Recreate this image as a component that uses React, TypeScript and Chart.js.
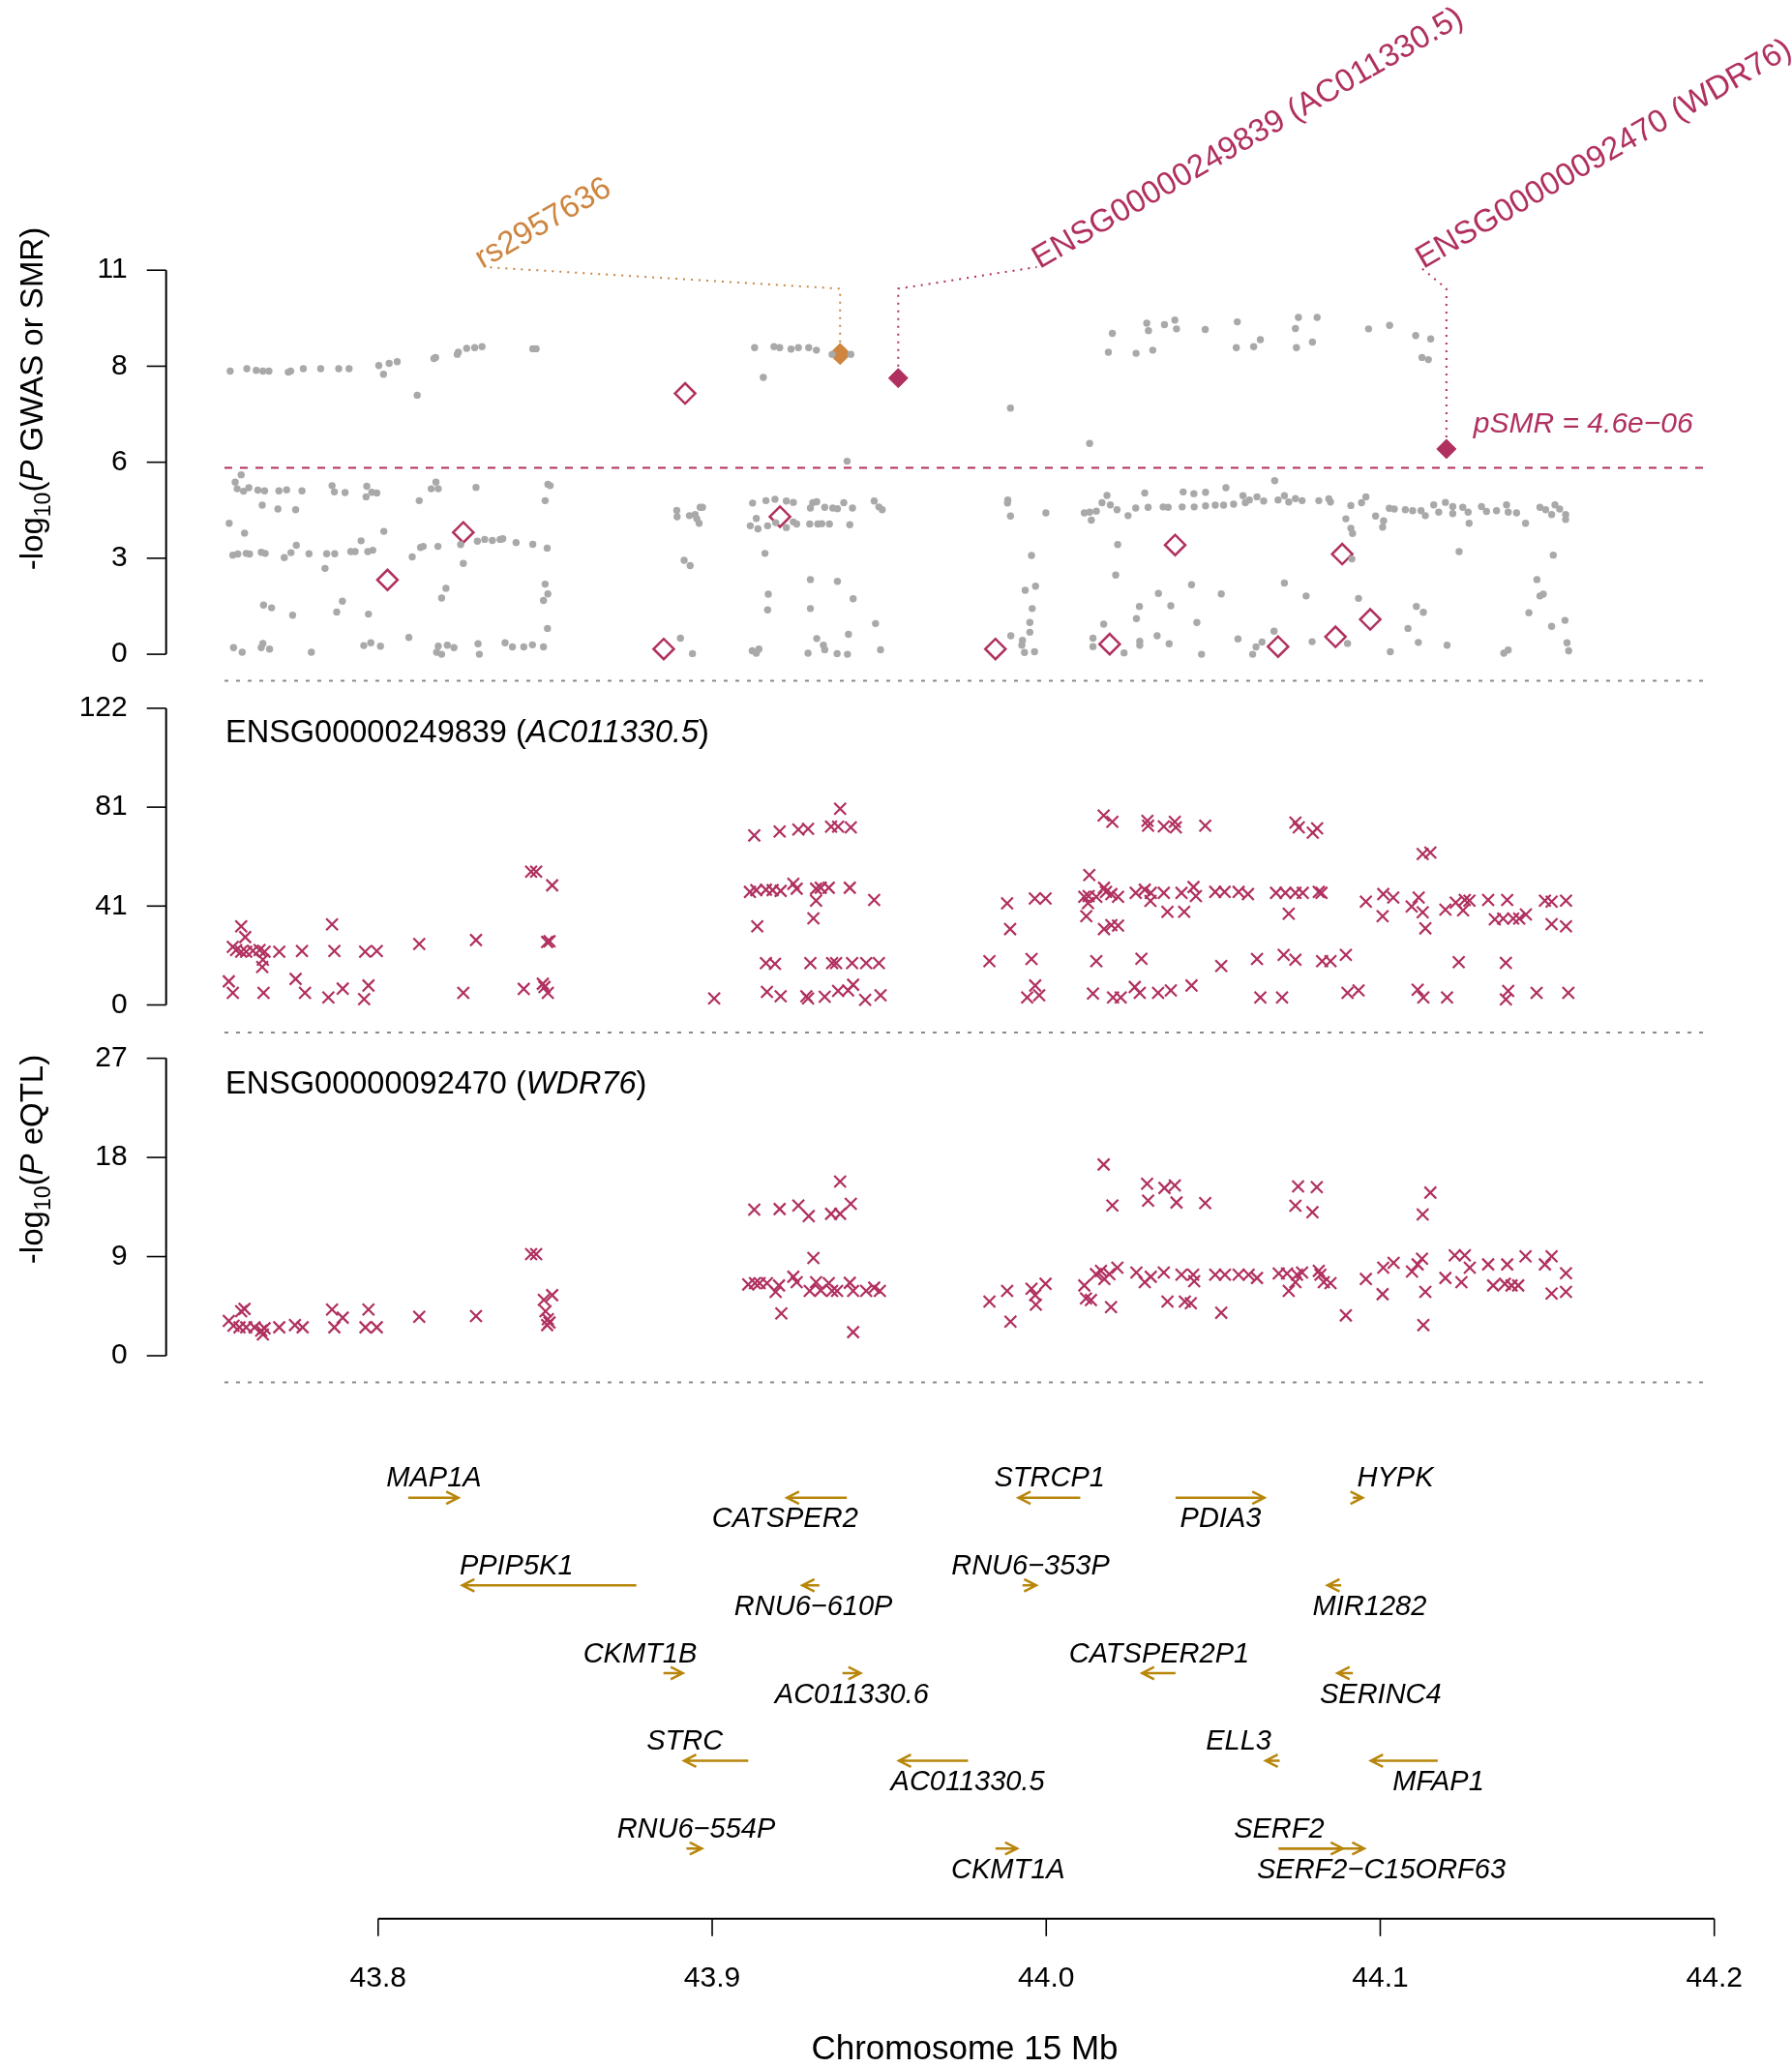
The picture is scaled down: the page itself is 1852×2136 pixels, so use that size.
import React, { useEffect, useRef } from "react";
import { Chart, registerables } from "chart.js";

Chart.register(...registerables);

// ---------------- styles ----------------
const MAROON = "#B03060";
const PERU = "#CD853F";
const GREY = "#A9A9A9";
const GOLD = "#B8860B";
const SEP_GREY = "#8A8A8A";
const FONT = '"Liberation Sans", Arial, Helvetica, sans-serif';

// ---------------- axes / ticks ----------------
const xTicks = [43.8, 43.9, 44.0, 44.1, 44.2];
const xTickLabels = ["43.8", "43.9", "44.0", "44.1", "44.2"];
const xTitle = "Chromosome 15 Mb";

const gwasTicks = [0, 2.75, 5.5, 8.25, 11];
const gwasTickLabels = ["0", "3", "6", "8", "11"];
const eqtl1Ticks = [0, 40.667, 81.333, 122];
const eqtl1TickLabels = ["0", "41", "81", "122"];
const eqtl2Ticks = [0, 9, 18, 27];
const eqtl2TickLabels = ["0", "9", "18", "27"];

const smrThreshold = 5.34; // -log10(P) significance line

// ---------------- GWAS (grey) [Mb, -log10 P] ----------------
const gwasPoints: number[][] = [
  [43.7557, 8.11], [43.7607, 8.18], [43.7635, 8.13], [43.7655, 8.11], [43.7673, 8.11], [43.7731, 8.08],
  [43.7738, 8.11], [43.7776, 8.18], [43.7828, 8.18], [43.7882, 8.18], [43.7913, 8.18], [43.8002, 8.27],
  [43.8016, 8.02], [43.8033, 8.33], [43.8057, 8.38], [43.8117, 7.42], [43.8167, 8.47], [43.8172, 8.5],
  [43.8237, 8.59], [43.824, 8.65], [43.8265, 8.76], [43.8289, 8.78], [43.8311, 8.81], [43.8463, 8.75],
  [43.8473, 8.75],
  [43.759, 5.14], [43.7572, 4.93], [43.7578, 4.74], [43.7597, 4.67], [43.7613, 4.77], [43.764, 4.7],
  [43.766, 4.68], [43.7703, 4.68], [43.7726, 4.71], [43.7772, 4.68], [43.7862, 4.83], [43.7869, 4.65],
  [43.7901, 4.63], [43.7966, 4.81], [43.7964, 4.51], [43.7981, 4.64], [43.7996, 4.62], [43.8123, 4.4],
  [43.8159, 4.74], [43.8173, 4.93], [43.818, 4.74], [43.8293, 4.78], [43.8508, 4.87], [43.8515, 4.83],
  [43.85, 4.4], [43.7653, 4.27], [43.77, 4.16], [43.7753, 4.14], [43.7554, 3.75], [43.76, 3.47],
  [43.7565, 2.84], [43.758, 2.87], [43.7605, 2.89], [43.7615, 2.87], [43.765, 2.92], [43.7662, 2.89],
  [43.7719, 2.77], [43.7739, 2.91], [43.7755, 3.12], [43.7793, 2.88], [43.7846, 2.88], [43.787, 2.88],
  [43.7918, 2.94], [43.7931, 2.94], [43.7969, 2.94], [43.7984, 2.98], [43.7949, 3.25], [43.8017, 3.52],
  [43.7841, 2.46], [43.8102, 2.79], [43.8127, 3.06], [43.8135, 3.09], [43.8179, 3.09], [43.8247, 3.14],
  [43.8255, 2.6], [43.8297, 3.24], [43.8319, 3.29], [43.8342, 3.26], [43.8365, 3.29], [43.8373, 3.31],
  [43.8413, 3.2], [43.8463, 3.15], [43.8506, 3.04], [43.8203, 1.89], [43.819, 1.61], [43.85, 2.01],
  [43.8508, 1.73], [43.8495, 1.54], [43.8507, 0.74], [43.7657, 1.41], [43.7681, 1.33], [43.7744, 1.12],
  [43.7893, 1.52], [43.7876, 1.21], [43.7971, 1.15], [43.7567, 0.19], [43.7593, 0.06], [43.7655, 0.31],
  [43.765, 0.19], [43.7675, 0.15], [43.78, 0.06], [43.7957, 0.25], [43.7978, 0.33], [43.8007, 0.23],
  [43.8092, 0.48], [43.818, 0.23], [43.8175, 0.06], [43.819, 0.0], [43.8207, 0.26], [43.8227, 0.19],
  [43.8299, 0.3], [43.8303, 0.0], [43.838, 0.33], [43.8402, 0.21], [43.8436, 0.21], [43.8462, 0.27],
  [43.8495, 0.21], [43.8894, 4.12], [43.8895, 3.94], [43.8932, 3.97], [43.8949, 4.0], [43.8964, 4.21],
  [43.8971, 4.21], [43.8954, 3.88], [43.8961, 3.75], [43.8916, 2.69], [43.8934, 2.54], [43.8905, 0.46],
  [43.8941, 0.02],
  [43.9127, 8.78], [43.9185, 8.81], [43.9202, 8.78], [43.9236, 8.74], [43.9258, 8.78], [43.9289, 8.78],
  [43.9312, 8.71], [43.9359, 8.59], [43.9415, 8.59], [43.9153, 7.93], [43.9893, 7.05], [43.9404, 5.53],
  [43.9121, 4.33], [43.9161, 4.4], [43.9188, 4.44], [43.9222, 4.39], [43.9243, 4.35], [43.9301, 4.34],
  [43.9313, 4.37], [43.9294, 4.19], [43.9337, 4.21], [43.9361, 4.19], [43.9375, 4.17], [43.9394, 4.34],
  [43.942, 4.19], [43.9485, 4.39], [43.9499, 4.22], [43.9509, 4.14], [43.9132, 3.89], [43.9114, 3.68],
  [43.9137, 3.59], [43.9166, 3.68], [43.919, 3.77], [43.9222, 3.63], [43.9243, 3.79], [43.9253, 3.73],
  [43.9292, 3.73], [43.9316, 3.73], [43.9328, 3.74], [43.9351, 3.73], [43.9412, 3.71], [43.9158, 2.89],
  [43.9885, 4.42], [43.9884, 4.33], [43.9893, 3.96], [43.9999, 4.05], [43.9956, 2.83], [43.9294, 2.14],
  [43.9375, 2.09], [43.9168, 1.72], [43.9166, 1.27], [43.9294, 1.31], [43.9422, 1.59], [43.9489, 0.88],
  [43.9937, 1.83], [43.9968, 1.95], [43.9958, 1.31], [43.9951, 0.91], [43.9951, 0.63], [43.9894, 0.53],
  [43.9929, 0.4], [43.9927, 0.26], [43.9935, 0.05], [43.9965, 0.07], [43.912, 0.1], [43.9132, 0.03],
  [43.914, 0.15], [43.9287, 0.03], [43.9313, 0.45], [43.9333, 0.26], [43.9337, 0.13], [43.9374, 0.02],
  [43.9405, 0.0], [43.9408, 0.57], [43.9504, 0.13],
  [44.0198, 9.19], [44.0186, 8.65], [44.0301, 9.48], [44.0306, 9.27], [44.0269, 8.62], [44.0319, 8.71],
  [44.0354, 9.44], [44.0385, 9.57], [44.039, 9.32], [44.0476, 9.3], [44.0572, 9.52], [44.0569, 8.78],
  [44.0621, 8.81], [44.0641, 9.01], [44.0755, 9.65], [44.0811, 9.65], [44.0746, 9.33], [44.0749, 8.78],
  [44.0797, 8.94], [44.0965, 9.32], [44.1028, 9.42], [44.1106, 9.13], [44.1151, 9.03], [44.1125, 8.5],
  [44.1144, 8.44], [44.013, 6.04],
  [44.0114, 4.05], [44.013, 4.07], [44.0135, 3.84], [44.015, 4.1], [44.0167, 4.34], [44.0182, 4.55],
  [44.0192, 4.28], [44.0212, 4.14], [44.0245, 3.97], [44.0268, 4.19], [44.0295, 4.62], [44.0305, 4.21],
  [44.035, 4.22], [44.0365, 4.21], [44.041, 4.65], [44.0407, 4.22], [44.0442, 4.6], [44.0443, 4.22],
  [44.0477, 4.64], [44.0477, 4.25], [44.0506, 4.27], [44.0538, 4.77], [44.0531, 4.27], [44.0561, 4.3],
  [44.0589, 4.54], [44.0596, 4.34], [44.0608, 4.42], [44.0631, 4.51], [44.0651, 4.39], [44.0684, 4.97],
  [44.0694, 4.42], [44.0713, 4.54], [44.0726, 4.36], [44.0746, 4.46], [44.0766, 4.4], [44.0816, 4.4],
  [44.0846, 4.45], [44.0851, 4.36], [44.0912, 4.26], [44.0944, 4.34], [44.0957, 4.51], [44.0897, 3.88],
  [44.0986, 3.96], [44.101, 3.82], [44.1007, 3.64], [44.0912, 3.61], [44.0917, 3.46], [44.1027, 4.18],
  [44.1042, 4.16], [44.1075, 4.14], [44.1097, 4.11], [44.1122, 4.11], [44.1135, 3.97], [44.116, 4.28],
  [44.1175, 4.07], [44.1195, 4.35], [44.1217, 4.23], [44.1217, 4.03], [44.1247, 4.21], [44.1263, 4.07],
  [44.1266, 3.75], [44.1303, 4.23], [44.1318, 4.09], [44.1348, 4.11], [44.1378, 4.28], [44.1383, 4.07],
  [44.1408, 4.05], [44.1435, 3.75], [44.1478, 4.21], [44.1495, 4.14], [44.1513, 4.0], [44.1523, 4.28],
  [44.1537, 4.16], [44.1555, 4.0], [44.1555, 3.86], [44.1236, 2.94], [44.1518, 2.84], [44.1469, 2.14],
  [44.1478, 1.67], [44.1488, 1.72], [44.1445, 1.19], [44.1513, 0.8], [44.1553, 0.97], [44.1559, 0.33],
  [44.1564, 0.1], [44.137, 0.03], [44.1383, 0.12], [44.0214, 3.14], [44.0208, 2.27], [44.0435, 1.99],
  [44.0336, 1.74], [44.0373, 1.39], [44.0279, 1.37], [44.027, 1.02], [44.0172, 0.86], [44.014, 0.46],
  [44.014, 0.22], [44.0233, 0.04], [44.028, 0.37], [44.028, 0.26], [44.0332, 0.53], [44.0368, 0.3],
  [44.0451, 0.91], [44.0465, 0.0], [44.0524, 1.73], [44.0574, 0.44], [44.0618, 0.0], [44.0628, 0.21],
  [44.0646, 0.35], [44.0682, 0.66], [44.0713, 2.04], [44.0778, 1.67], [44.0796, 0.36], [44.0902, 0.31],
  [44.0915, 2.73], [44.0935, 1.6], [44.103, 0.07], [44.1083, 0.74], [44.1108, 1.37], [44.1129, 1.2],
  [44.1114, 0.34], [44.12, 0.26],
];

// ---------------- SMR results ----------------
const smrOpen: number[][] = [
  [43.8255, 3.49], [43.8028, 2.13], [43.8919, 7.47], [43.8855, 0.15], [43.9203, 3.94], [43.9848, 0.15],
  [44.0386, 3.13], [44.0886, 2.87], [44.019, 0.29], [44.0694, 0.22], [44.0866, 0.5], [44.097, 1.0],
];
const smrSig: number[][] = [[43.9557, 7.91], [44.1198, 5.88]];
const topSnp: number[][] = [[43.9383, 8.6]];

// top annotations: label text, target point, label anchor (Mb)
const annoTexts = ["rs2957636", "ENSG00000249839 (AC011330.5)", "ENSG00000092470 (WDR76)"];
const annoTargets: number[][] = [topSnp[0], smrSig[0], smrSig[1]];
const annoAnchorMb = [43.8318, 43.9972, 44.112];
const annoBendY = 10.47;
const annoLabelY = 11.09;
const pSmrText = "pSMR = 4.6e\u221206";

// ---------------- eQTL: ENSG00000249839 (AC011330.5) ----------------
const eqtl1Points: number[][] = [
  [43.759, 32.3], [43.7602, 27.9], [43.7565, 23.9], [43.7575, 22.6], [43.759, 21.9], [43.7605, 21.9],
  [43.7625, 22.3], [43.7645, 22.6], [43.766, 21.9], [43.7655, 18.6], [43.7653, 15.6], [43.7704, 21.9],
  [43.7772, 22.2], [43.7869, 22.2], [43.7862, 33.1], [43.7961, 21.9], [43.7996, 22.2], [43.8123, 25.1],
  [43.8293, 26.7], [43.7553, 9.7], [43.7565, 5.0], [43.7657, 5.0], [43.7753, 10.7], [43.7781, 5.0],
  [43.7851, 3.1], [43.7894, 6.7], [43.7971, 8.0], [43.7958, 2.4], [43.8255, 5.0], [43.8436, 6.6],
  [43.8493, 8.7], [43.8498, 7.4], [43.8508, 5.0], [43.8458, 54.8], [43.8473, 54.8], [43.8521, 49.2],
  [43.8506, 25.9], [43.8513, 26.2], [43.9006, 2.7],
  [43.9126, 69.7], [43.9202, 71.3], [43.9258, 72.1], [43.9287, 72.4], [43.9356, 73.3], [43.9383, 80.7],
  [43.9377, 73.3], [43.9415, 73.0], [43.9113, 46.5], [43.9132, 47.2], [43.9161, 47.4], [43.9181, 47.2],
  [43.9205, 46.9], [43.9243, 49.8], [43.9253, 47.8], [43.9311, 47.8], [43.9325, 48.2], [43.9349, 48.2],
  [43.9412, 48.2], [43.9311, 42.9], [43.9303, 35.6], [43.9485, 43.2], [43.9135, 32.3], [43.9161, 17.2],
  [43.9188, 16.9], [43.9294, 17.2], [43.9359, 17.2], [43.9371, 17.2], [43.9419, 17.2], [43.9461, 17.2],
  [43.9499, 17.2], [43.9164, 5.4], [43.9205, 3.6], [43.9282, 3.6], [43.9287, 2.7], [43.9337, 3.4],
  [43.9377, 5.8], [43.9407, 6.0], [43.9422, 8.3], [43.9458, 2.1], [43.9504, 4.0], [43.983, 18.0],
  [43.9883, 41.8], [43.9892, 31.2], [43.9966, 43.8], [43.9998, 43.8], [43.9956, 18.9], [43.9967, 8.0],
  [43.9943, 3.1], [43.9979, 4.0],
  [44.0172, 77.9], [44.0198, 75.3], [44.0303, 75.7], [44.0305, 73.7], [44.0352, 73.4], [44.0385, 75.3],
  [44.0388, 73.0], [44.0476, 73.7], [44.0746, 75.0], [44.0756, 73.0], [44.0798, 70.8], [44.0811, 72.6],
  [44.1127, 62.1], [44.115, 62.7], [44.0129, 53.4], [44.0114, 44.5], [44.0127, 44.8], [44.015, 44.5],
  [44.0173, 48.2], [44.0179, 46.5], [44.0195, 45.6], [44.0215, 44.5], [44.0268, 46.1], [44.0295, 47.4],
  [44.0312, 42.8], [44.0313, 46.1], [44.0352, 46.1], [44.0405, 46.1], [44.0441, 48.5], [44.0448, 44.8],
  [44.0506, 46.5], [44.0534, 46.5], [44.0576, 46.5], [44.0604, 45.6], [44.0688, 46.1], [44.0716, 46.1],
  [44.0746, 46.1], [44.0768, 46.1], [44.0816, 46.5], [44.0824, 46.1], [44.012, 36.5], [44.0125, 41.9],
  [44.0173, 31.2], [44.0195, 32.8], [44.0215, 32.6], [44.0363, 38.3], [44.0413, 38.3], [44.0726, 37.5],
  [44.0957, 42.5], [44.1009, 45.6], [44.1039, 44.2], [44.1007, 36.5], [44.1094, 40.5], [44.1115, 44.2],
  [44.1127, 38.1], [44.1135, 31.5], [44.1195, 39.2], [44.1226, 42.1], [44.1253, 43.2], [44.1267, 42.9],
  [44.1248, 38.9], [44.1323, 43.2], [44.138, 43.2], [44.1343, 35.2], [44.1368, 35.5], [44.1398, 35.5],
  [44.1416, 35.5], [44.1436, 37.2], [44.1493, 42.9], [44.1513, 42.5], [44.1556, 42.9], [44.1513, 33.2],
  [44.1556, 32.3], [44.015, 18.0], [44.0285, 19.0], [44.0524, 16.0], [44.0631, 18.9], [44.0711, 20.6],
  [44.0746, 18.6], [44.0826, 18.0], [44.0851, 18.0], [44.0897, 20.6], [44.1235, 17.6], [44.1376, 17.3],
  [44.014, 4.7], [44.02, 3.1], [44.0223, 3.1], [44.0265, 7.4], [44.028, 5.0], [44.0335, 5.0],
  [44.0373, 6.0], [44.0435, 8.0], [44.0641, 3.1], [44.0706, 3.1], [44.0902, 5.0], [44.0935, 6.0],
  [44.1112, 6.3], [44.1129, 3.1], [44.12, 3.1], [44.1383, 5.8], [44.1376, 2.3], [44.1468, 5.0],
  [44.1563, 5.0],
];

// ---------------- eQTL: ENSG00000092470 (WDR76) ----------------
const eqtl2Points: number[][] = [
  [43.7553, 3.16], [43.759, 4.04], [43.76, 4.25], [43.7567, 2.72], [43.7585, 2.58], [43.7605, 2.58],
  [43.763, 2.58], [43.765, 2.28], [43.7655, 1.93], [43.766, 2.49], [43.7704, 2.58], [43.7751, 2.78],
  [43.7774, 2.58], [43.7862, 4.19], [43.7894, 3.46], [43.7869, 2.58], [43.7971, 4.19], [43.7962, 2.58],
  [43.7996, 2.58], [43.8123, 3.54], [43.8293, 3.6], [43.8458, 9.22], [43.8473, 9.22], [43.8521, 5.5],
  [43.8496, 5.07], [43.8501, 4.04], [43.8508, 3.31], [43.8513, 3.02], [43.8506, 2.78],
  [43.9126, 13.26], [43.9202, 13.32], [43.9258, 13.64], [43.9289, 12.68], [43.9356, 12.88], [43.9383, 15.81],
  [43.9383, 12.88], [43.9415, 13.79], [43.9303, 8.87], [43.9108, 6.47], [43.9128, 6.59], [43.9142, 6.59],
  [43.9164, 6.59], [43.919, 5.8], [43.92, 6.38], [43.9243, 7.17], [43.9253, 6.68], [43.9292, 5.89],
  [43.9311, 6.68], [43.9325, 5.94], [43.9349, 6.59], [43.9359, 5.89], [43.9374, 5.89], [43.9412, 6.62],
  [43.9422, 5.89], [43.9461, 5.89], [43.9485, 6.18], [43.9502, 5.89], [43.9207, 3.84], [43.9422, 2.14],
  [43.983, 4.92], [43.9883, 5.89], [43.9893, 3.1], [43.9956, 6.09], [43.9969, 4.63], [43.9967, 5.5],
  [43.9998, 6.53],
  [44.0172, 17.36], [44.0198, 13.64], [44.0302, 15.61], [44.0305, 14.08], [44.0354, 15.23], [44.0385, 15.46],
  [44.039, 13.91], [44.0476, 13.85], [44.0754, 15.37], [44.081, 15.31], [44.0746, 13.61], [44.0797, 13.03],
  [44.115, 14.81], [44.1127, 12.82], [44.0114, 6.38], [44.0119, 5.21], [44.0134, 5.06], [44.0149, 7.41],
  [44.0164, 7.7], [44.0174, 6.97], [44.0189, 7.41], [44.0213, 7.99], [44.0194, 4.42], [44.027, 7.55],
  [44.0295, 6.68], [44.0313, 7.17], [44.0352, 7.55], [44.0405, 7.35], [44.044, 7.35], [44.0443, 6.76],
  [44.0363, 4.92], [44.0415, 4.92], [44.0433, 4.77], [44.0506, 7.35], [44.0535, 7.35], [44.0576, 7.35],
  [44.0606, 7.35], [44.0631, 7.06], [44.0524, 3.9], [44.0696, 7.47], [44.0721, 7.47], [44.0751, 7.35],
  [44.0766, 7.55], [44.0746, 6.68], [44.0726, 5.89], [44.0816, 7.7], [44.0821, 7.35], [44.0831, 6.68],
  [44.0851, 6.59], [44.0897, 3.66], [44.0957, 6.97], [44.1009, 7.99], [44.104, 8.43], [44.1007, 5.59],
  [44.1095, 7.64], [44.1112, 8.29], [44.1125, 8.81], [44.1135, 5.8], [44.1129, 2.78], [44.1195, 7.06],
  [44.1223, 9.11], [44.1253, 9.11], [44.1268, 7.99], [44.1243, 6.68], [44.1323, 8.29], [44.138, 8.29],
  [44.1338, 6.38], [44.1373, 6.53], [44.1393, 6.38], [44.1413, 6.38], [44.1435, 9.02], [44.1493, 8.29],
  [44.1513, 9.02], [44.1556, 7.49], [44.1513, 5.65], [44.1556, 5.8],
];

// ---------------- genes ----------------
const geneNames = [
  "MAP1A", "CATSPER2", "STRCP1", "PDIA3", "HYPK",
  "PPIP5K1", "RNU6\u2212610P", "RNU6\u2212353P", "MIR1282",
  "CKMT1B", "AC011330.6", "CATSPER2P1", "SERINC4",
  "STRC", "AC011330.5", "ELL3", "MFAP1",
  "RNU6\u2212554P", "CKMT1A", "SERF2", "SERF2\u2212C15ORF63",
];
const geneStart = [
  43.809, 43.9224, 43.9917, 44.0387, 44.0918,
  43.8252, 43.927, 43.9929, 44.0842,
  43.8854, 43.939, 44.0287, 44.0872,
  43.8916, 43.9559, 44.0657, 44.0972,
  43.8923, 43.9848, 44.0696, 44.0696,
];
const geneEnd = [
  43.824, 43.9403, 44.0102, 44.0653, 44.0947,
  43.8773, 43.9321, 43.997, 44.0883,
  43.8912, 43.9444, 44.0387, 44.0918,
  43.9108, 43.9766, 44.0699, 44.1172,
  43.8969, 43.9913, 44.0888, 44.0952,
];
const geneStrand = [1, -1, -1, 1, 1, -1, -1, 1, -1, 1, 1, -1, -1, -1, -1, -1, -1, 1, 1, 1, 1];
const geneRow = [1, 1, 1, 1, 1, 2, 2, 2, 2, 3, 3, 3, 3, 4, 4, 4, 4, 5, 5, 5, 5];
const geneLabelX = [
  43.8167, 43.9218, 44.001, 44.0522, 44.1045,
  43.8414, 43.9303, 43.9953, 44.0968,
  43.8784, 43.9418, 44.0338, 44.1001,
  43.8918, 43.9765, 44.0576, 44.1174,
  43.8952, 43.9886, 44.0697, 44.1003,
];
const geneLabelAbove = [1, 0, 1, 0, 1, 1, 0, 1, 0, 1, 0, 1, 0, 1, 0, 1, 0, 1, 0, 1, 0];

// ---------------- layout constants (pixels / scale windows) ----------------
const W = 1852;
const H = 2136;
const AXIS_X = 171.7;
const X_AXIS_Y = 1982.8;
const LINE_X0 = 43.754;
const LINE_X1 = 44.1969;
const SEP_GWAS = -0.762;
const SEP_E1 = -11.3;
const SEP_E2 = -2.415;

const toXY = (arr: number[][]) => arr.map(([x, y]) => ({ x, y }));

function drawMixed(ctx: CanvasRenderingContext2D, parts: [string, string, number][], x: number, y: number, align: "left" | "center") {
  let total = 0;
  parts.forEach(([t, f]) => { ctx.font = f; total += ctx.measureText(t).width; });
  let cx = align === "center" ? x - total / 2 : x;
  ctx.textAlign = "left";
  ctx.textBaseline = "alphabetic";
  parts.forEach(([t, f, dy]) => {
    ctx.font = f;
    ctx.fillText(t, cx, y + dy);
    cx += ctx.measureText(t).width;
  });
}

const decor = {
  id: "smrDecor",
  beforeDatasetsDraw(chart: any) {
    const ctx: CanvasRenderingContext2D = chart.ctx;
    const sx = chart.scales.x;
    const s1 = chart.scales.yGwas;
    const s2 = chart.scales.yE1;
    const s3 = chart.scales.yE2;
    const sg = chart.scales.yGene;
    ctx.save();

    const xl = sx.getPixelForValue(LINE_X0);
    const xr = sx.getPixelForValue(LINE_X1);

    // dotted separators
    ctx.strokeStyle = SEP_GREY;
    ctx.lineWidth = 2;
    ctx.setLineDash([4, 8]);
    ([[s1, SEP_GWAS], [s2, SEP_E1], [s3, SEP_E2]] as any[]).forEach(([s, v]) => {
      const y = s.getPixelForValue(v);
      ctx.beginPath();
      ctx.moveTo(xl, y);
      ctx.lineTo(xr, y);
      ctx.stroke();
    });

    // SMR threshold
    ctx.strokeStyle = MAROON;
    ctx.setLineDash([8, 8]);
    const yt = s1.getPixelForValue(smrThreshold);
    ctx.beginPath();
    ctx.moveTo(xl, yt);
    ctx.lineTo(xr, yt);
    ctx.stroke();
    ctx.setLineDash([]);

    // y axes
    ctx.strokeStyle = "#000";
    ctx.fillStyle = "#000";
    const yAxes: [any, number[], string[]][] = [
      [s1, gwasTicks, gwasTickLabels],
      [s2, eqtl1Ticks, eqtl1TickLabels],
      [s3, eqtl2Ticks, eqtl2TickLabels],
    ];
    yAxes.forEach(([s, ticks, labels]) => {
      const yTop = s.getPixelForValue(ticks[ticks.length - 1]);
      const yBot = s.getPixelForValue(ticks[0]);
      ctx.lineWidth = 2;
      ctx.beginPath();
      ctx.moveTo(AXIS_X, yTop);
      ctx.lineTo(AXIS_X, yBot);
      ctx.stroke();
      ctx.font = `30px ${FONT}`;
      ctx.textAlign = "right";
      ctx.textBaseline = "middle";
      ticks.forEach((t, i) => {
        const y = s.getPixelForValue(t);
        ctx.lineWidth = 1.6;
        ctx.beginPath();
        ctx.moveTo(AXIS_X - 20, y);
        ctx.lineTo(AXIS_X, y);
        ctx.stroke();
        ctx.fillText(labels[i], AXIS_X - 40, y);
      });
    });

    // y titles (rotated)
    const yTitle = (cy: number, rest: string) => {
      ctx.save();
      ctx.translate(44, cy);
      ctx.rotate(-Math.PI / 2);
      drawMixed(ctx, [
        ["-log", `33px ${FONT}`, 0],
        ["10", `23px ${FONT}`, 8],
        ["(", `33px ${FONT}`, 0],
        ["P", `italic 33px ${FONT}`, 0],
        [rest, `33px ${FONT}`, 0],
      ], 0, 0, "center");
      ctx.restore();
    };
    yTitle(412, " GWAS or SMR)");
    yTitle(1198, " eQTL)");

    // panel titles
    drawMixed(ctx, [["ENSG00000249839 (", `32.5px ${FONT}`, 0], ["AC011330.5", `italic 32.5px ${FONT}`, 0], [")", `32.5px ${FONT}`, 0]], 233, 767, "left");
    drawMixed(ctx, [["ENSG00000092470 (", `32.5px ${FONT}`, 0], ["WDR76", `italic 32.5px ${FONT}`, 0], [")", `32.5px ${FONT}`, 0]], 233, 1130, "left");

    // x axis
    const x0 = sx.getPixelForValue(xTicks[0]);
    const x1 = sx.getPixelForValue(xTicks[xTicks.length - 1]);
    ctx.lineWidth = 2;
    ctx.beginPath();
    ctx.moveTo(x0, X_AXIS_Y);
    ctx.lineTo(x1, X_AXIS_Y);
    ctx.stroke();
    ctx.font = `30px ${FONT}`;
    ctx.textAlign = "center";
    ctx.textBaseline = "alphabetic";
    xTicks.forEach((t, i) => {
      const x = sx.getPixelForValue(t);
      ctx.lineWidth = 1.6;
      ctx.beginPath();
      ctx.moveTo(x, X_AXIS_Y);
      ctx.lineTo(x, X_AXIS_Y + 18);
      ctx.stroke();
      ctx.fillText(xTickLabels[i], x, 2053);
    });
    ctx.font = `35px ${FONT}`;
    ctx.fillText(xTitle, 997, 2128);

    // genes
    ctx.strokeStyle = GOLD;
    ctx.lineWidth = 2.5;
    const headL = 14;
    const headA = (27 * Math.PI) / 180;
    geneNames.forEach((name, i) => {
      const y = sg.getPixelForValue(geneRow[i]);
      const a = sx.getPixelForValue(geneStart[i]);
      const b = sx.getPixelForValue(geneEnd[i]);
      const from = geneStrand[i] > 0 ? a : b;
      const to = geneStrand[i] > 0 ? b : a;
      const dir = Math.sign(to - from) || geneStrand[i];
      ctx.beginPath();
      ctx.moveTo(from, y);
      ctx.lineTo(to, y);
      ctx.moveTo(to - dir * headL * Math.cos(headA), y - headL * Math.sin(headA));
      ctx.lineTo(to, y);
      ctx.lineTo(to - dir * headL * Math.cos(headA), y + headL * Math.sin(headA));
      ctx.stroke();
      ctx.fillStyle = "#000";
      ctx.font = `italic 29px ${FONT}`;
      ctx.textAlign = "center";
      ctx.textBaseline = "alphabetic";
      const lx = sx.getPixelForValue(geneLabelX[i]);
      ctx.fillText(name, lx, geneLabelAbove[i] ? y - 11.3 : y + 30.6);
    });

    ctx.restore();
  },
  afterDatasetsDraw(chart: any) {
    const ctx: CanvasRenderingContext2D = chart.ctx;
    const sx = chart.scales.x;
    const s1 = chart.scales.yGwas;
    ctx.save();
    const colors = [PERU, MAROON, MAROON];
    annoTexts.forEach((txt, i) => {
      const [mx, my] = annoTargets[i];
      const px = sx.getPixelForValue(mx);
      const py = s1.getPixelForValue(my) - 12;
      const yb = s1.getPixelForValue(annoBendY);
      const ax = sx.getPixelForValue(annoAnchorMb[i]);
      const ay = s1.getPixelForValue(annoLabelY);
      ctx.strokeStyle = colors[i];
      ctx.lineWidth = 2;
      ctx.setLineDash([2, 6]);
      ctx.beginPath();
      ctx.moveTo(px, py);
      ctx.lineTo(px, yb);
      ctx.lineTo(ax, ay);
      ctx.stroke();
      ctx.setLineDash([]);
      ctx.save();
      ctx.translate(ax + (i === 0 ? -2 : 3), ay + 2);
      ctx.rotate(-Math.PI / 6);
      ctx.fillStyle = colors[i];
      ctx.font = `33px ${FONT}`;
      ctx.textAlign = "left";
      ctx.textBaseline = "alphabetic";
      ctx.fillText(txt, 0, 0);
      ctx.restore();
    });
    // pSMR label next to WDR76 point
    const [qx, qy] = smrSig[1];
    ctx.fillStyle = MAROON;
    ctx.font = `italic 30px ${FONT}`;
    ctx.textAlign = "left";
    ctx.textBaseline = "alphabetic";
    ctx.fillText(pSmrText, sx.getPixelForValue(qx) + 28, s1.getPixelForValue(qy) - 17);
    ctx.restore();
  },
};

export default function App() {
  const ref = useRef<HTMLCanvasElement | null>(null);
  useEffect(() => {
    const canvas = ref.current;
    if (!canvas) return;
    const hidden = { display: false };
    const chart = new Chart(canvas, {
      type: "scatter",
      data: {
        datasets: [
          {
            data: toXY(gwasPoints), yAxisID: "yGwas", pointStyle: "circle", pointRadius: 3.7,
            pointBackgroundColor: GREY, pointBorderWidth: 0, pointHoverRadius: 3.7,
          },
          {
            data: toXY(smrOpen), yAxisID: "yGwas", pointStyle: "rectRot", pointRadius: 10.5,
            pointBackgroundColor: "rgba(0,0,0,0)", pointBorderColor: MAROON, pointBorderWidth: 2.5,
          },
          {
            data: toXY(eqtl1Points), yAxisID: "yE1", pointStyle: "crossRot", pointRadius: 8.5,
            pointBorderColor: MAROON, pointBorderWidth: 2.2,
          },
          {
            data: toXY(eqtl2Points), yAxisID: "yE2", pointStyle: "crossRot", pointRadius: 8.5,
            pointBorderColor: MAROON, pointBorderWidth: 2.2,
          },
          {
            data: toXY(smrSig), yAxisID: "yGwas", pointStyle: "rectRot", pointRadius: 10,
            pointBackgroundColor: MAROON, pointBorderColor: MAROON, pointBorderWidth: 1,
          },
          {
            data: toXY(topSnp), yAxisID: "yGwas", pointStyle: "circle", pointRadius: 8,
            pointBackgroundColor: PERU, pointBorderWidth: 0,
          },
          {
            data: toXY(topSnp), yAxisID: "yGwas", pointStyle: "rectRot", pointRadius: 11,
            pointBackgroundColor: PERU, pointBorderColor: PERU, pointBorderWidth: 1,
          },
        ],
      },
      options: {
        animation: false,
        responsive: false,
        devicePixelRatio: 1,
        events: [],
        layout: { padding: 0, autoPadding: false },
        plugins: { legend: hidden, tooltip: { enabled: false }, title: hidden },
        scales: {
          x: { type: "linear", position: "bottom", min: 43.686798, max: 44.22326, display: false },
          y: { type: "linear", display: false },
          yGwas: { type: "linear", axis: "y", position: "left", min: -40.463, max: 18.739, display: false },
          yE1: { type: "linear", axis: "y", position: "left", min: -436.73, max: 413.25, display: false },
          yE2: { type: "linear", axis: "y", position: "left", min: -64.558, max: 123.057, display: false },
          yGene: { type: "linear", axis: "y", position: "left", min: -16.083, max: 7.493, reverse: true, display: false },
        },
      } as any,
      plugins: [decor as any],
    });
    return () => chart.destroy();
  }, []);
  return (
    <div style={{ position: "absolute", left: 0, top: 0, width: W, height: H, overflow: "hidden", background: "#fff" }}>
      <canvas ref={ref} width={W} height={H} style={{ display: "block", width: W, height: H }} />
    </div>
  );
}
